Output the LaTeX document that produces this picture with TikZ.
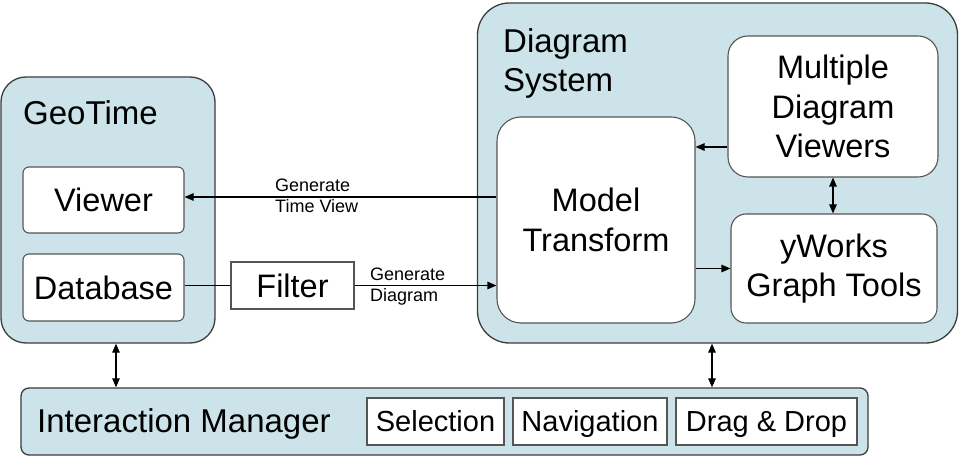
\documentclass[tikz,border=0pt]{standalone}
\usepackage{fontspec}
\setmainfont{Liberation Sans}
\usetikzlibrary{arrows.meta}
\definecolor{panel}{RGB}{204,228,233}
\definecolor{edge}{RGB}{60,60,60}
\definecolor{inedge}{RGB}{85,85,85}
\tikzset{
  outerbox/.style={draw=edge, line width=1.3bp, fill=panel, inner sep=0pt},
  innerbox/.style={draw=inedge, line width=1.1bp, fill=white, inner sep=0pt, align=center,
    font=\fontsize{32.5bp}{39.5bp}\selectfont},
  smallbox/.style={draw=inedge, line width=1.1bp, fill=white, inner sep=0pt,
    text height=20bp, text depth=0bp, font=\fontsize{29bp}{34bp}\selectfont},
  title/.style={inner sep=0pt, align=left, font=\fontsize{33bp}{39bp}\selectfont},
  lbl/.style={inner sep=0pt, align=left, font=\fontsize{18bp}{21.5bp}\selectfont},
  arr/.style={line width=1.1bp, -{Triangle[length=9bp,width=7.5bp]}},
  darr/.style={line width=1.1bp, {Triangle[length=9bp,width=7.5bp]}-{Triangle[length=9bp,width=7.5bp]}},
  ln/.style={line width=1.1bp}
}
\begin{document}
\begin{tikzpicture}[x=1bp,y=-1bp]
\useasboundingbox[fill=white] (0,0) rectangle (960,457);
% outer panels
\node[outerbox, rounded corners=25bp, minimum width=214bp, minimum height=266bp] (geo) at (108,210) {};
\node[outerbox, rounded corners=32bp, minimum width=480bp, minimum height=340bp] (ds) at (717.5,173) {};
\node[outerbox, rounded corners=8bp, minimum width=847bp, minimum height=67bp] (im) at (444.5,421.5) {};
% titles (anchor at baseline of last line)
\node[title, anchor=base west] (geot) at (23,125) {GeoTime};
\node[title, anchor=base west] (dst) at (503,92) {Diagram\\System};
\node[title, anchor=base west] (imt) at (37,432) {Interaction Manager};
% inner boxes
\node[innerbox, rounded corners=6bp, minimum width=161bp, minimum height=66bp] (viewer) at (103.5,200) {Viewer};
\node[innerbox, rounded corners=6bp, minimum width=161bp, minimum height=67bp] (db) at (103.5,287.5) {Database};
\node[innerbox, rounded corners=0bp, minimum width=123bp, minimum height=47bp] (filter) at (292.5,285.5) {Filter};
\node[innerbox, rounded corners=24bp, minimum width=198bp, minimum height=206bp] (model) at (596,220) {Model\\Transform};
\node[innerbox, rounded corners=20bp, minimum width=210bp, minimum height=141bp] (multi) at (833,106.5) {Multiple\\Diagram\\Viewers};
\node[innerbox, rounded corners=15bp, minimum width=206bp, minimum height=109bp] (yw) at (834,268.5) {yWorks\\Graph Tools};
\node[smallbox, minimum width=137bp, minimum height=47bp] (sel) at (435.5,421.5) {Selection};
\node[smallbox, minimum width=154bp, minimum height=47bp] (nav) at (590,421.5) {Navigation};
\node[smallbox, minimum width=181bp, minimum height=47bp] (dd) at (766.5,421.5) {Drag \& Drop};
% labels (anchor at baseline of last line)
\node[lbl, anchor=base west] (l1) at (275,213) {Generate\\Time View};
\node[lbl, anchor=base west] (l2) at (370,302) {Generate\\Diagram};
% connectors
\draw[arr] ([yshift=3bp]model.west |- viewer.east) -- ([yshift=3bp]viewer.east);
\draw[ln] (db.east |- filter.west) -- (filter.west);
\draw[arr] (filter.east) -- (model.west |- filter.east);
\draw[arr] ([yshift=-40.5bp]multi.west) -- ([yshift=-40.5bp]model.east |- multi.west);
\draw[arr] (model.east |- yw.west) -- (yw.west);
\draw[darr] (multi.south) -- (multi.south |- yw.north);
\draw[darr] ([xshift=8bp]geo.south) -- ([xshift=8bp]geo.south |- im.north);
\draw[darr] ([xshift=-5.5bp]ds.south) -- ([xshift=-5.5bp]ds.south |- im.north);
\end{tikzpicture}
\end{document}
